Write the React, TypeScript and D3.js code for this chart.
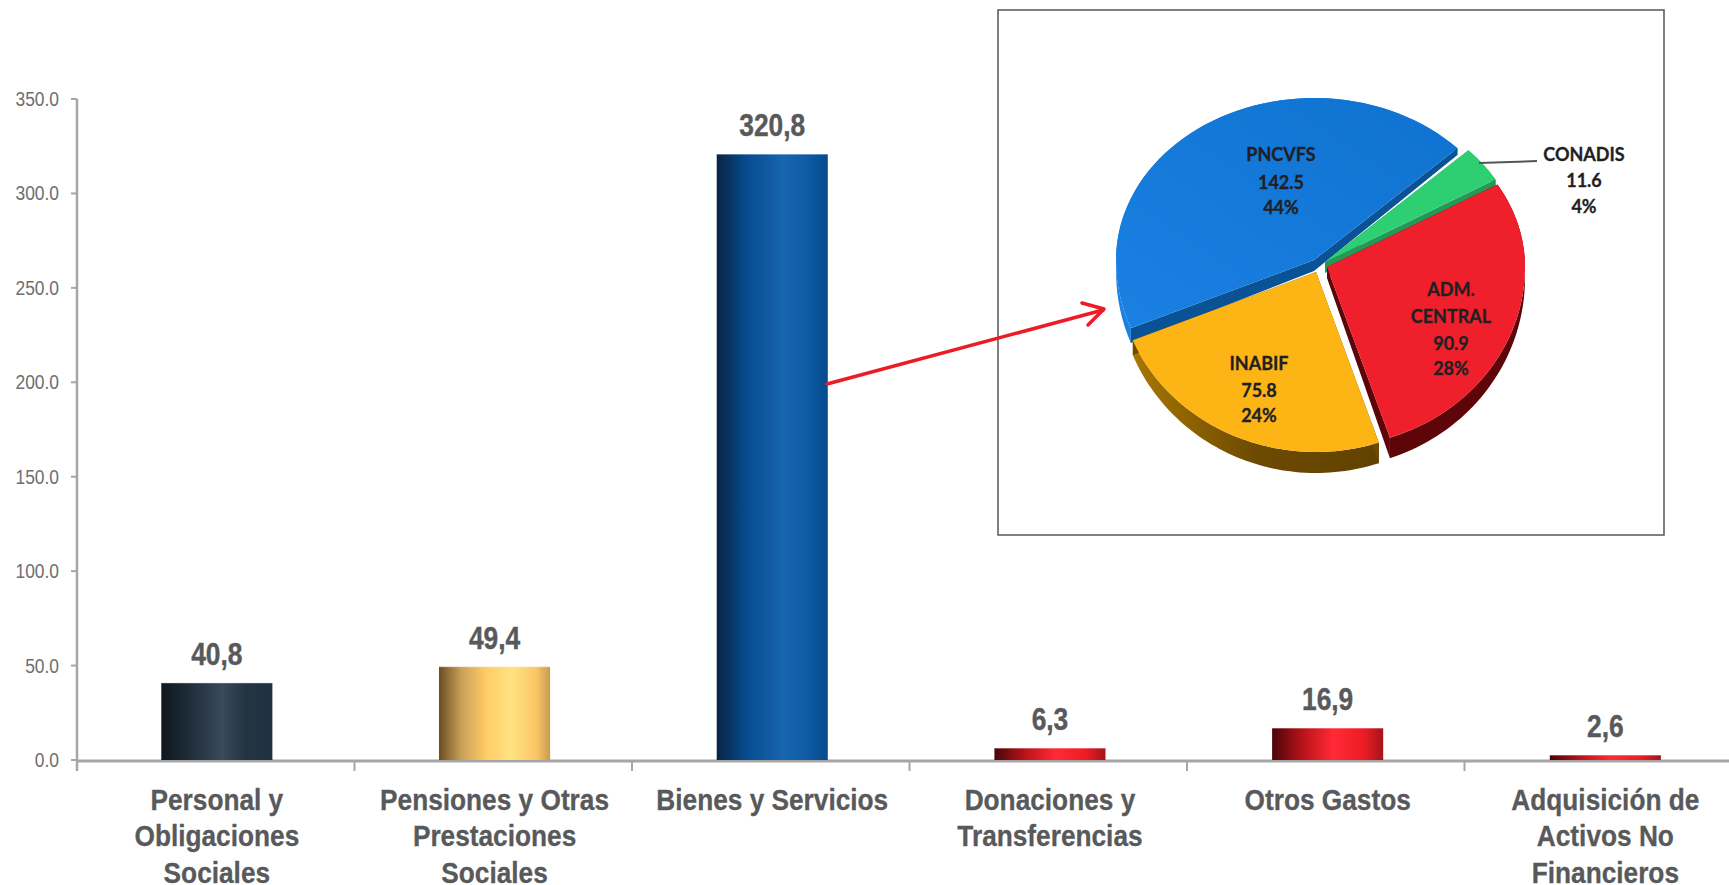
import React from 'react';
import * as d3 from 'd3';

const categories = [
  ['Personal y', 'Obligaciones', 'Sociales'],
  ['Pensiones y Otras', 'Prestaciones', 'Sociales'],
  ['Bienes y Servicios'],
  ['Donaciones y', 'Transferencias'],
  ['Otros Gastos'],
  ['Adquisición de', 'Activos No', 'Financieros'],
];
const values = [40.8, 49.4, 320.8, 6.3, 16.9, 2.6];
const valueLabels = ['40,8', '49,4', '320,8', '6,3', '16,9', '2,6'];
const yTicks = [0, 50, 100, 150, 200, 250, 300, 350];

const pieNames = ['PNCVFS', 'CONADIS', 'ADM. CENTRAL', 'INABIF'];
const pieValues = [142.5, 11.6, 90.9, 75.8];
const piePercents = ['44%', '4%', '28%', '24%'];

const W = 1729;
const H = 885;
// no Arial Narrow here, so squeeze Liberation Sans horizontally
const barFont = '"Liberation Sans", Arial, sans-serif';

const x = d3.scaleBand<number>()
  .domain(d3.range(values.length))
  .range([78, 1744.2])
  .paddingInner(0.6)
  .paddingOuter(0.3);
const tickStep = 277.5;
const y = d3.scaleLinear().domain([0, 350]).range([760, 99]);

// gradient stops per bar
const dark = [[0, '#0d171f'], [0.22, '#1c2a35'], [0.55, '#3a4a5c'], [0.75, '#243443'], [1, '#1f3040']];
const gold = [[0, '#6a4e22'], [0.2, '#c9a059'], [0.42, '#ffcb66'], [0.65, '#ffe381'], [0.88, '#fbc565'], [1, '#c69a50']];
const blue = [[0, '#0a2342'], [0.25, '#064a8c'], [0.6, '#1865b0'], [0.8, '#105ca5'], [1, '#064a8c']];
const red = [[0, '#4a0508'], [0.3, '#c1151c'], [0.55, '#ff2a36'], [0.82, '#ee1c25'], [1, '#a5141a']];
const barStops = [dark, gold, blue, red, red, red];

// pie layout, one entry per slice
const rx = 198;
const ryBack = 162;
const ryFront = 180;
const apex = [[1314, 260], [1325, 262], [1327, 267], [1316, 272]];
const topColor = ['url(#pieBlue)', '#2ecf72', '#ef1f2b', '#fdb515'];
const faceColor = ['#0a5296', '#249857', '#5e0509', '#6d4a02'];
const rimColor = ['#1a80e2', '#249857', '#5e0509', 'url(#pieGoldSide)'];
const drawOrder = [0, 1, 3, 2];

const rad = Math.PI / 180;
const pie = d3.pie<number>().sort(null).startAngle(246.5 * rad).endAngle(606.5 * rad);
const arcs = pie(pieValues);

// a point on the tilted disc, t = distance from apex 0..1
// the small angle shift stands in for the perspective on the left side
function project(i: number, a: number, t: number): [number, number] {
  const b = a + 1.2 * rad * Math.max(0, Math.cos(a - 250 * rad));
  const s = Math.sin(b);
  const c = -Math.cos(b);
  const ry = c > 0 ? ryFront : ryBack;
  return [apex[i][0] + rx * t * s, apex[i][1] + ry * t * c];
}
function depth(p: [number, number], i: number) {
  const yn = (p[1] - apex[i][1]) / ryFront;
  return yn < 0 ? 11 + 7 * yn : 11 + 10 * yn;
}
function outline(i: number): [number, number][] {
  const { startAngle, endAngle } = arcs[i];
  const pts: [number, number][] = [project(i, 0, 0)];
  d3.range(0, 61).forEach(k => {
    pts.push(project(i, startAngle + ((endAngle - startAngle) * k) / 60, 1));
  });
  return pts;
}
const closedLine = d3.line().curve(d3.curveLinearClosed);

// extruded side, radial cut faces and outer rim are coloured apart
function sidePath(i: number, radial: boolean) {
  const pts = outline(i);
  let d = '';
  pts.forEach((p, k) => {
    const isRadial = k === 0 || k === pts.length - 1;
    if (isRadial !== radial) return;
    const q = pts[(k + 1) % pts.length];
    const a: [number, number] = [p[0], p[1] + depth(p, i)];
    const b: [number, number] = [q[0], q[1] + depth(q, i)];
    let quad: [number, number][] = [p, q, b, a];
    if (d3.polygonArea(quad) < 0) quad = quad.reverse();
    d += closedLine(quad);
  });
  return d;
}

const pieLabels = [
  { i: 0, cx: 1281, lines: [155, 183, 208] },
  { i: 1, cx: 1584, lines: [155, 181, 207] },
  { i: 2, cx: 1451, lines: [290, 317, 344, 369] },
  { i: 3, cx: 1259, lines: [364, 391, 416] },
];
function labelLines(i: number) {
  const names = i === 2 ? ['ADM.', 'CENTRAL'] : [pieNames[i]];
  return [...names, pieValues[i].toFixed(1), piePercents[i]];
}

export default function App() {
  return (
    <svg width={W} height={H} style={{ position: 'fixed', left: 0, top: 0, background: '#fff' }}>
      <defs>
        {barStops.map((stops, i) => (
          <linearGradient key={i} id={`bar${i}`} x1="0" x2="1" y1="0" y2="0">
            {stops.map((s, k) => <stop key={k} offset={s[0] as number} stopColor={s[1] as string} />)}
          </linearGradient>
        ))}
        <linearGradient id="pieBlue" x1="0" x2="1" y1="1" y2="0">
          <stop offset="0" stopColor="#1a80e2" />
          <stop offset="1" stopColor="#0f72d0" />
        </linearGradient>
        <linearGradient id="pieGoldSide" x1="0" x2="1" y1="0" y2="0">
          <stop offset="0" stopColor="#a87700" />
          <stop offset="0.5" stopColor="#6d4a02" />
          <stop offset="1" stopColor="#624200" />
        </linearGradient>
      </defs>

      {/* y axis */}
      <line x1={77} x2={77} y1={y(350)} y2={771} stroke="#a6a6a6" strokeWidth={2.5} />
      {yTicks.map(t => (
        <g key={t}>
          <line x1={71} x2={77} y1={y(t)} y2={y(t)} stroke="#a6a6a6" strokeWidth={2} />
          <text
            transform={`translate(59,${y(t)}) scale(0.87,1)`}
            dy="0.35em"
            textAnchor="end"
            fontFamily={barFont}
            fontSize={20}
            fill="#6d6e71"
          >
            {t.toFixed(1)}
          </text>
        </g>
      ))}

      {/* x axis */}
      <line x1={77} x2={W} y1={761} y2={761} stroke="#a6a6a6" strokeWidth={3} />
      {d3.range(1, categories.length).map(i => (
        <line key={i} x1={77 + tickStep * i} x2={77 + tickStep * i} y1={760} y2={771} stroke="#a6a6a6" strokeWidth={2} />
      ))}

      {/* bars */}
      {values.map((v, i) => {
        const cx = (x(i) as number) + x.bandwidth() / 2;
        return (
          <g key={i}>
            <rect x={x(i)} y={y(v)} width={x.bandwidth()} height={y(0) - y(v)} fill={`url(#bar${i})`} />
            <line x1={x(i)} x2={(x(i) as number) + x.bandwidth()} y1={y(v)} y2={y(v)} stroke="#fff" strokeOpacity={0.4} />
            <text
              transform={`translate(${cx},${y(v) - 18}) scale(0.85,1)`}
              textAnchor="middle"
              fontFamily={barFont}
              fontWeight="bold"
              fontSize={31}
              fill="#58595b"
              stroke="#58595b"
              strokeWidth={0.4}
            >
              {valueLabels[i]}
            </text>
            {categories[i].map((line, k) => (
              <text
                key={k}
                transform={`translate(${cx},${799 + k * 36.5}) scale(0.875,1)`}
                dy="0.35em"
                textAnchor="middle"
                fontFamily={barFont}
                fontWeight="bold"
                fontSize={30}
                fill="#58595b"
                stroke="#58595b"
                strokeWidth={0.3}
              >
                {line}
              </text>
            ))}
          </g>
        );
      })}

      {/* inset */}
      <rect x={998} y={10} width={666} height={525} fill="#fff" stroke="#555" strokeWidth={1.5} />
      {drawOrder.map(i => (
        <g key={i}>
          <path d={sidePath(i, false)} fill={rimColor[i]} />
          <path d={sidePath(i, true)} fill={faceColor[i]} />
          <path d={closedLine(outline(i)) as string} fill={topColor[i]} />
        </g>
      ))}
      <line x1={1479} y1={163} x2={1537} y2={161} stroke="#555" strokeWidth={2} />
      {pieLabels.map(l =>
        labelLines(l.i).map((t, k) => (
          <text
            key={k}
            x={l.cx}
            y={l.lines[k]}
            dy="0.35em"
            textAnchor="middle"
            fontFamily="Lato, sans-serif"
            fontWeight="bold"
            fontSize={18}
            fill="#1f1f24"
            stroke="#1f1f24"
            strokeWidth={0.3}
          >
            {t}
          </text>
        ))
      )}

      {/* arrow */}
      <g stroke="#ed1c24" strokeWidth={3.5} fill="none" strokeLinecap="round" strokeLinejoin="round">
        <line x1={827} y1={384} x2={1103} y2={310} />
        <polyline points="1082,303 1104,309 1088,325" />
      </g>
    </svg>
  );
}
